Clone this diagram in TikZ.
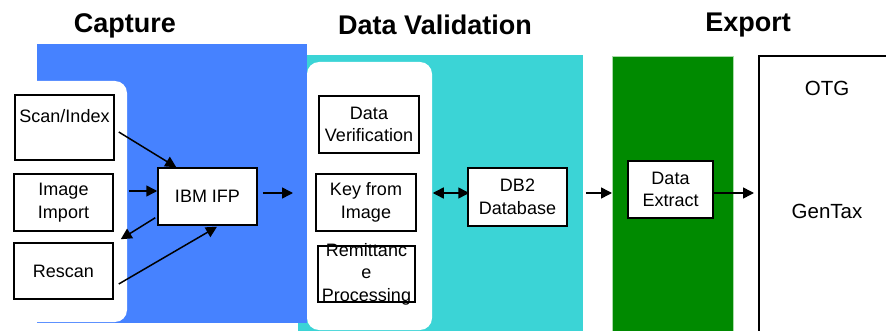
\documentclass[tikz,border=0pt]{standalone}
\usepackage{fontspec}
\setmainfont{Liberation Sans}
\usepackage{xcolor}
\usetikzlibrary{arrows.meta,calc}
\definecolor{capblue}{HTML}{4682FF}
\definecolor{valcyan}{HTML}{3BD4D6}
\definecolor{expgreen}{HTML}{008A00}
\definecolor{edgegreen}{HTML}{A8DCA8}
\tikzset{
  box/.style={draw=black, fill=white, line width=1.5pt, minimum width=99pt, minimum height=57pt, inner sep=0pt},
  txt/.style={font=\fontsize{18}{22.5}\selectfont, align=center},
  title/.style={font=\fontsize{27}{30}\selectfont\bfseries},
  exptxt/.style={font=\fontsize{20.5}{24}\selectfont},
  arr/.style={-{Triangle[length=11pt,width=11pt]}, line width=1.5pt},
  darr/.style={{Triangle[length=11pt,width=11pt]}-{Triangle[length=11pt,width=11pt]}, line width=1.5pt},
  panel/.style={fill=white, rounded corners=12pt}
}

\begin{document}
\begin{tikzpicture}[x=1pt,y=1pt]
  \useasboundingbox (0,0) rectangle (886,-331);
  \clip (0,0) rectangle (886,-331);

  % lanes
  \fill[valcyan] (298,-55) rectangle (583,-340);
  \fill[capblue] (37,-44) rectangle (307,-323);
  \filldraw[expgreen, draw=edgegreen, line width=0.8pt] (612,-56) rectangle (733,-345);
  \draw[line width=1.5pt, fill=white] (759,-56) rectangle (900,-345);
  \fill[panel] (-20,-81) rectangle (127,-322);
  \fill[panel] (307,-62) rectangle (432,-330);

  % titles
  \node[title] at (125,-26) {Capture};
  \node[title] at (435,-25) {Data Validation};
  \node[title] at (748,-25) {Export};

  % capture
  \node[box, minimum height=65pt] (scan) at (64.5,-127.5) {};
  \node[txt, anchor=north] at ([yshift=-12]scan.north) {Scan/Index};
  \node[box, txt] (import) at (63.5,-202.5) {Image\\Import};
  \node[box, minimum height=56pt, txt] (rescan) at (63.5,-271) {Rescan};
  \node[box, txt] (ifp) at (207.5,-196.5) {IBM IFP};

  % validation
  \node[box, minimum width=100pt, txt] (verify) at (369,-124.5) {Data\\Verification};
  \node[box, minimum width=100pt, txt] (key) at (366,-202.5) {Key from\\Image};
  \node[box, minimum width=97pt, minimum height=56pt] (remit) at (366.5,-274) {};
  \node[txt] at (remit) {Remittanc\\e\\Processing};
  \node[box, minimum height=58pt, txt] (db2) at (517.5,-197) {DB2\\Database};

  % export
  \node[box, minimum width=85pt, txt] (extract) at (670.5,-189.5) {Data\\Extract};
  \node[exptxt] (otg) at (827,-88) {OTG};
  \node[exptxt] (gentax) at (827,-211) {GenTax};
  \coordinate (valin) at (293,-193);
  \coordinate (expin) at (612,-193);
  \coordinate (otgin) at (754,-193);

  % connectors
  \draw[arr] ([xshift=4,yshift=-4.5]scan.east) -- ([xshift=19]ifp.north west);
  \draw[arr] ([xshift=15,yshift=11.5]import.east) -- ([yshift=5.5]ifp.west);
  \draw[arr] ([xshift=-2,yshift=8]ifp.south west) -- ([xshift=7,yshift=3]rescan.north east);
  \draw[arr] ([xshift=5,yshift=-13]rescan.east) -- ([xshift=9.5,yshift=-1]ifp.south);
  \draw[arr] ([xshift=5,yshift=3.5]ifp.east) -- (valin);
  \draw[darr] ([xshift=16,yshift=9.5]key.east) -- ([xshift=2,yshift=4]db2.west);
  \draw[arr] ([xshift=18,yshift=4]db2.east) -- (expin);
  \draw[arr] ([yshift=-3.5]extract.east) -- (otgin);
\end{tikzpicture}
\end{document}
